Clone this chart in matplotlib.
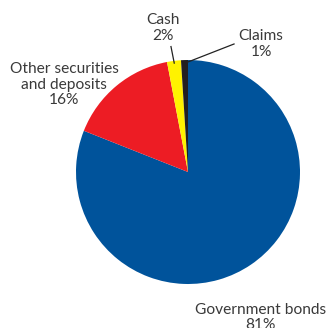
import matplotlib.pyplot as plt
import numpy as np

labels = ['Government bonds', 'Other securities\nand deposits', 'Cash', 'Claims']
shares = [81, 16, 2, 1]
colors = ['#00539b', '#ed1c24', '#fff200', '#231f20']

textColor = '#3a3a3a'

fig = plt.figure(figsize=(3.28, 3.28), dpi=100)
ax = fig.add_axes([76 / 328, 44 / 328, 224 / 328, 224 / 328])

wedges, _ = ax.pie(shares, colors=colors, startangle=90, counterclock=False,
                   radius=1, wedgeprops=dict(linewidth=0))
ax.set_xlim(-1, 1)
ax.set_ylim(-1, 1)
ax.set_aspect('equal')
ax.axis('off')

# label centres in data units (pie radius = 1)
labelPos = [(0.65, -1.3), (-1.107, 0.78), (-0.223, 1.285), (0.652, 1.145)]
for lab, val, (lx, ly) in zip(labels, shares, labelPos):
	ax.text(lx, ly, '%s\n%d%%' % (lab, val), ha='center', va='center',
			fontsize=11.2, color=textColor, linespacing=1.15,
			family='Lato', clip_on=False)

# leader lines for the two thin slices
def leader(w, start, frac=0.5):
	ang = np.deg2rad(w.theta1 + (w.theta2 - w.theta1) * frac)
	end = (0.98 * np.cos(ang), 0.98 * np.sin(ang))
	ax.plot([start[0], end[0]], [start[1], end[1]], color='#222222',
			linewidth=0.9, clip_on=False)

leader(wedges[2], (-0.152, 1.12))
leader(wedges[3], (0.411, 1.143), frac=0.1)

plt.savefig('out.png', dpi=100)
